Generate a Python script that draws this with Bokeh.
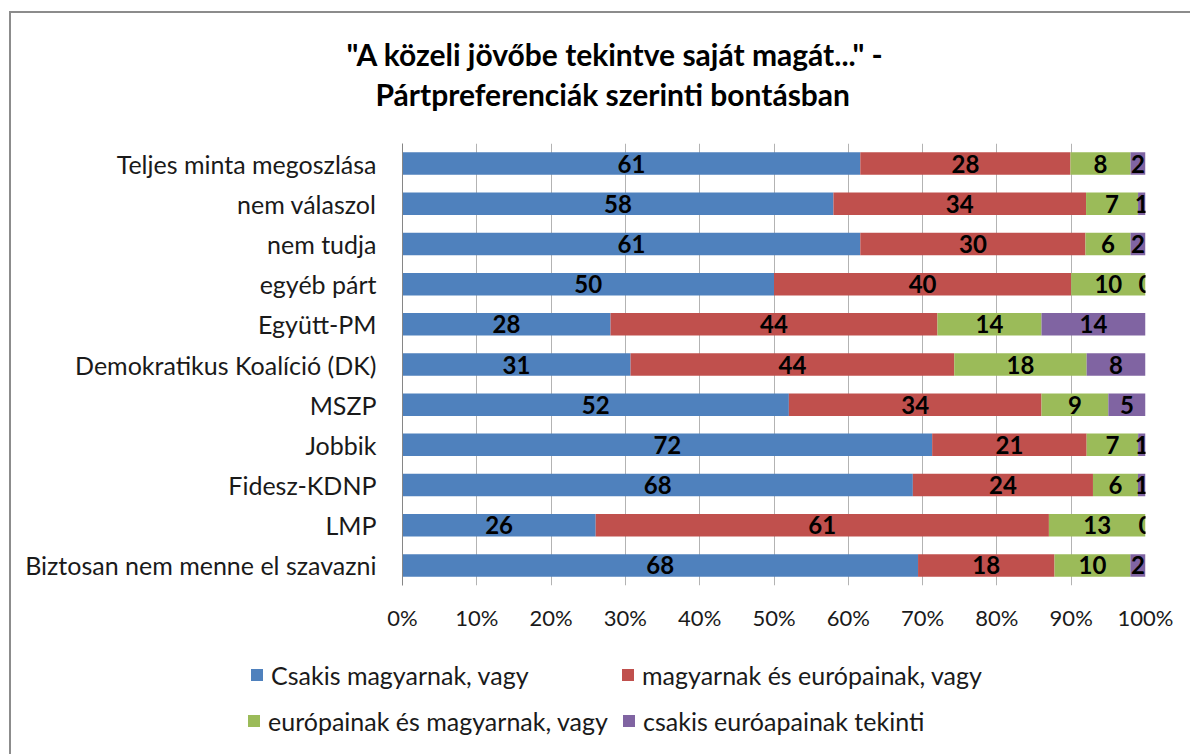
import numpy as np
from bokeh.plotting import figure
from bokeh.layouts import column
from bokeh.models import ColumnDataSource, FactorRange, Range1d, FixedTicker, Title, Div
from bokeh.core.properties import value
from bokeh.embed import file_html
from bokeh.resources import INLINE

# ---------------- data ----------------
categories = [
    "Teljes minta megoszlása", "nem válaszol", "nem tudja", "egyéb párt", "Együtt-PM",
    "Demokratikus Koalíció (DK)", "MSZP", "Jobbik", "Fidesz-KDNP", "LMP",
    "Biztosan nem menne el szavazni",
]
series_names = [
    "Csakis magyarnak, vagy",
    "magyarnak és európainak, vagy",
    "európainak és magyarnak, vagy",
    "csakis euróapainak tekinti",
]
csak_magyar = [61, 58, 61, 50, 28, 31, 52, 72, 68, 26, 68]
magyar_europai = [28, 34, 30, 40, 44, 44, 34, 21, 24, 61, 18]
europai_magyar = [8, 7, 6, 10, 14, 18, 9, 7, 6, 13, 10]
csak_europai = [2, 1, 2, 0, 14, 8, 5, 1, 1, 0, 2]
colors = ["#4F81BD", "#C0504D", "#9BBB59", "#8064A2"]
tick_values = [0, 10, 20, 30, 40, 50, 60, 70, 80, 90, 100]
tick_labels = ["0%", "10%", "20%", "30%", "40%", "50%", "60%", "70%", "80%", "90%", "100%"]
title_lines = ['"A közeli jövőbe tekintve saját magát..." -', "Pártpreferenciák szerinti bontásban"]

FONT = "Lato"
TEXT_COLOR = "#1a1a1a"
BORDER = "#8c8c8c"
W = 1179

# ---------------- derived (100% stacked) ----------------
vals = np.array([csak_magyar, magyar_europai, europai_magyar, csak_europai], dtype=float)
totals = vals.sum(axis=0)
shares = vals / totals * 100.0
keys = ["s0", "s1", "s2", "s3"]
src = ColumnDataSource(dict(cat=categories, **{k: shares[i] for i, k in enumerate(keys)}))

p = figure(
    y_range=FactorRange(factors=categories[::-1]),
    x_range=Range1d(0, 100),
    width=W, height=637,
    min_border_left=391, min_border_right=45, min_border_top=130, min_border_bottom=65,
    output_backend="svg", toolbar_location=None,
)
p.outline_line_color = None

renderers = p.hbar_stack(keys, y="cat", height=0.56, color=colors, line_color=None, source=src)

starts = np.vstack([np.zeros(len(categories)), np.cumsum(shares, axis=0)[:-1]])
centers = starts + shares / 2.0
lx, ly, lt = [], [], []
for i in range(4):
    for j, c in enumerate(categories):
        lx.append(centers[i, j]); ly.append(c); lt.append(str(int(vals[i, j])))
lsrc = ColumnDataSource(dict(x=lx, y=ly, t=lt))
p.text(x="x", y="y", text="t", source=lsrc, text_align="center", text_baseline="middle",
       text_font=value(FONT), text_font_style="bold", text_font_size="24px", text_color="black")

p.xaxis.ticker = FixedTicker(ticks=tick_values)
p.xaxis.major_label_overrides = {v: l for v, l in zip(tick_values, tick_labels)}
p.xaxis.axis_line_color = None
p.xaxis.major_tick_line_color = None
p.xaxis.minor_tick_line_color = None
p.xaxis.major_label_standoff = 12
p.xaxis.major_label_text_font = FONT
p.xaxis.major_label_text_font_size = "22px"
p.xaxis.major_label_text_color = TEXT_COLOR

p.yaxis.axis_line_color = "#868686"
p.yaxis.major_tick_line_color = None
p.yaxis.minor_tick_line_color = None
p.yaxis.major_label_standoff = 20
p.yaxis.major_label_text_font = FONT
p.yaxis.major_label_text_font_size = "25px"
p.yaxis.major_label_text_color = TEXT_COLOR

p.xgrid.grid_line_color = "#b3b3b3"
p.ygrid.grid_line_color = None

# ---------------- titles (stacked outward from the plot) ----------------
p.add_layout(Title(text=" ", text_font_size="1px", standoff=29), "above")  # spacer
p.add_layout(Title(text=title_lines[1], align="left", offset=-27, standoff=0,
                   text_font=FONT, text_font_style="bold", text_font_size="30px",
                   text_color="black"), "above")
p.add_layout(Title(text=title_lines[0], align="left", offset=-56, standoff=4,
                   text_font=FONT, text_font_style="bold", text_font_size="30px",
                   text_color="black"), "above")

# ---------------- legend (two rows, drawn as inline SVG) ----------------
legend_rows = [[0, 1], [2, 3]]
row_y = [20, 66]
marker_x = [[235, 606], [232, 607]]
MS = 12
parts = [f'<svg xmlns="http://www.w3.org/2000/svg" width="{W}" height="100" '
         f'style="display:block">']
for r, idxs in enumerate(legend_rows):
    for k, i in enumerate(idxs):
        mx, cy = marker_x[r][k], row_y[r]
        parts.append(f'<rect x="{mx}" y="{cy - MS // 2}" width="{MS}" height="{MS}" fill="{colors[i]}"/>')
        parts.append(f'<text x="{mx + MS + 8}" y="{cy}" dominant-baseline="central" '
                     f'style="font-family: {FONT}, sans-serif; font-size: 25px; fill: {TEXT_COLOR};">'
                     f'{series_names[i]}</text>')
parts.append("</svg>")
legend_div = Div(text="".join(parts), width=W, height=100)

layout = column(p, legend_div, spacing=0)
layout.styles = {"margin-left": "11px", "margin-top": "13px",
                 "box-shadow": f"-2px -2px 0 0 {BORDER}"}

open("out.html", "w").write(file_html(layout, INLINE))
